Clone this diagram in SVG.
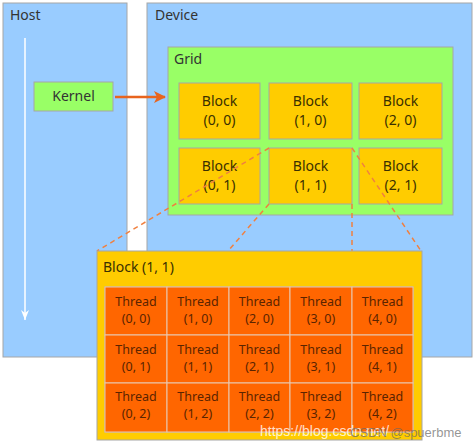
<svg xmlns="http://www.w3.org/2000/svg" width="475" height="446" viewBox="0 0 475 446">
<defs>
<style>
text{font-family:"Noto Sans","DejaVu Sans",sans-serif;fill:#333}
.lbl{font-size:14px}
.blk{fill:#FFCC00;stroke:#A6A6A6;stroke-width:1}
.bt{font-size:14px;text-anchor:middle;fill:#3a3000}
.th{fill:#FF6600;stroke:#E8C8B0;stroke-width:1}
.tt{font-size:12.5px;text-anchor:middle;fill:#5a2400}
.dash{stroke:#F08040;stroke-width:1.5;stroke-dasharray:5,4;fill:none}
</style>
<marker id="ah" markerWidth="12" markerHeight="12" refX="11" refY="6" orient="auto" markerUnits="userSpaceOnUse">
<path d="M0,0 L12,6 L0,12 L3,6 Z" fill="#E8641E"/>
</marker>
<marker id="wh" markerWidth="8" markerHeight="10" refX="4" refY="10" orient="0" markerUnits="userSpaceOnUse">
<path d="M0,0 L4,3 L8,0 L4,10 Z" fill="#FFFFFF"/>
</marker>
</defs>
<rect width="475" height="446" fill="#FFFFFF"/>
<g id="host">
<rect x="3" y="3" width="124" height="354" fill="#99CCFF" stroke="#A6A6A6"/>
<text x="10" y="20" class="lbl">Host</text>
<line x1="25" y1="38" x2="25" y2="320" stroke="#FFFFFF" stroke-width="1.5" marker-end="url(#wh)"/>
</g>
<g id="device">
<rect x="147" y="3" width="325" height="354" fill="#99CCFF" stroke="#A6A6A6"/>
<text x="155" y="20" class="lbl">Device</text>
</g>
<g id="grid">
<rect x="168" y="47" width="285" height="168" fill="#99FF66" stroke="#A6A6A6"/>
<text x="174" y="64" class="lbl">Grid</text>
</g>
<g id="kernel">
<rect x="34" y="82" width="79" height="29" fill="#99FF66" stroke="#A6A6A6"/>
<text x="73.5" y="101" class="lbl" text-anchor="middle">Kernel</text>
</g>
<g id="block00"><rect class="blk" x="179" y="83" width="81" height="56"/><text class="bt" x="219.5" y="106">Block</text><text class="bt" x="219.5" y="125">(0, 0)</text></g>
<g id="block10"><rect class="blk" x="269" y="83" width="83" height="56"/><text class="bt" x="310.5" y="106">Block</text><text class="bt" x="310.5" y="125">(1, 0)</text></g>
<g id="block20"><rect class="blk" x="359" y="83" width="83" height="56"/><text class="bt" x="400.5" y="106">Block</text><text class="bt" x="400.5" y="125">(2, 0)</text></g>
<g id="block01"><rect class="blk" x="179" y="148" width="81" height="56"/><text class="bt" x="219.5" y="171">Block</text><text class="bt" x="219.5" y="190">(0, 1)</text></g>
<g id="block11"><rect class="blk" x="269" y="148" width="83" height="56"/><text class="bt" x="310.5" y="171">Block</text><text class="bt" x="310.5" y="190">(1, 1)</text></g>
<g id="block21"><rect class="blk" x="359" y="148" width="83" height="56"/><text class="bt" x="400.5" y="171">Block</text><text class="bt" x="400.5" y="190">(2, 1)</text></g>
<g id="connectors">
<line x1="115" y1="97" x2="165" y2="97" stroke="#E8641E" stroke-width="2.5" marker-end="url(#ah)"/>
<line class="dash" x1="269" y1="148" x2="97" y2="251"/>
<line class="dash" x1="269" y1="204" x2="228" y2="251"/>
<line class="dash" x1="352" y1="204" x2="352" y2="251"/>
<line class="dash" x1="352" y1="148" x2="421" y2="251"/>
</g>
<g id="block11-detail">
<rect x="97" y="251" width="325" height="189" fill="#FFCC00" stroke="#A6A6A6"/>
<text x="103" y="272" class="lbl" style="fill:#3a3000">Block (1, 1)</text>
<rect x="105" y="287" width="308" height="145" fill="#FF6600" stroke="#A6A6A6"/>
</g>
<g id="threads">
<g id="t00"><rect class="th" x="105" y="287" width="62" height="48"/><text class="tt" x="136" y="306">Thread</text><text class="tt" x="136" y="323">(0, 0)</text></g>
<g id="t10"><rect class="th" x="167" y="287" width="62" height="48"/><text class="tt" x="198" y="306">Thread</text><text class="tt" x="198" y="323">(1, 0)</text></g>
<g id="t20"><rect class="th" x="229" y="287" width="61" height="48"/><text class="tt" x="259.5" y="306">Thread</text><text class="tt" x="259.5" y="323">(2, 0)</text></g>
<g id="t30"><rect class="th" x="290" y="287" width="62" height="48"/><text class="tt" x="321" y="306">Thread</text><text class="tt" x="321" y="323">(3, 0)</text></g>
<g id="t40"><rect class="th" x="352" y="287" width="61" height="48"/><text class="tt" x="382.5" y="306">Thread</text><text class="tt" x="382.5" y="323">(4, 0)</text></g>
<g id="t01"><rect class="th" x="105" y="335" width="62" height="48"/><text class="tt" x="136" y="354">Thread</text><text class="tt" x="136" y="371">(0, 1)</text></g>
<g id="t11"><rect class="th" x="167" y="335" width="62" height="48"/><text class="tt" x="198" y="354">Thread</text><text class="tt" x="198" y="371">(1, 1)</text></g>
<g id="t21"><rect class="th" x="229" y="335" width="61" height="48"/><text class="tt" x="259.5" y="354">Thread</text><text class="tt" x="259.5" y="371">(2, 1)</text></g>
<g id="t31"><rect class="th" x="290" y="335" width="62" height="48"/><text class="tt" x="321" y="354">Thread</text><text class="tt" x="321" y="371">(3, 1)</text></g>
<g id="t41"><rect class="th" x="352" y="335" width="61" height="48"/><text class="tt" x="382.5" y="354">Thread</text><text class="tt" x="382.5" y="371">(4, 1)</text></g>
<g id="t02"><rect class="th" x="105" y="383" width="62" height="49"/><text class="tt" x="136" y="401">Thread</text><text class="tt" x="136" y="418">(0, 2)</text></g>
<g id="t12"><rect class="th" x="167" y="383" width="62" height="49"/><text class="tt" x="198" y="401">Thread</text><text class="tt" x="198" y="418">(1, 2)</text></g>
<g id="t22"><rect class="th" x="229" y="383" width="61" height="49"/><text class="tt" x="259.5" y="401">Thread</text><text class="tt" x="259.5" y="418">(2, 2)</text></g>
<g id="t32"><rect class="th" x="290" y="383" width="62" height="49"/><text class="tt" x="321" y="401">Thread</text><text class="tt" x="321" y="418">(3, 2)</text></g>
<g id="t42"><rect class="th" x="352" y="383" width="61" height="49"/><text class="tt" x="382.5" y="401">Thread</text><text class="tt" x="382.5" y="418">(4, 2)</text></g>
</g>
<g id="watermark">
<text x="260" y="436" style="font-family:'Liberation Sans',sans-serif;font-size:14px;fill:#FFFFFF;fill-opacity:0.8">https://blog.csdn.net/</text>
<text x="350" y="437" style="font-family:'Liberation Sans',sans-serif;font-size:13px;fill:#666;fill-opacity:0.7">CSDN @spuerbme</text>
</g>
</svg>
